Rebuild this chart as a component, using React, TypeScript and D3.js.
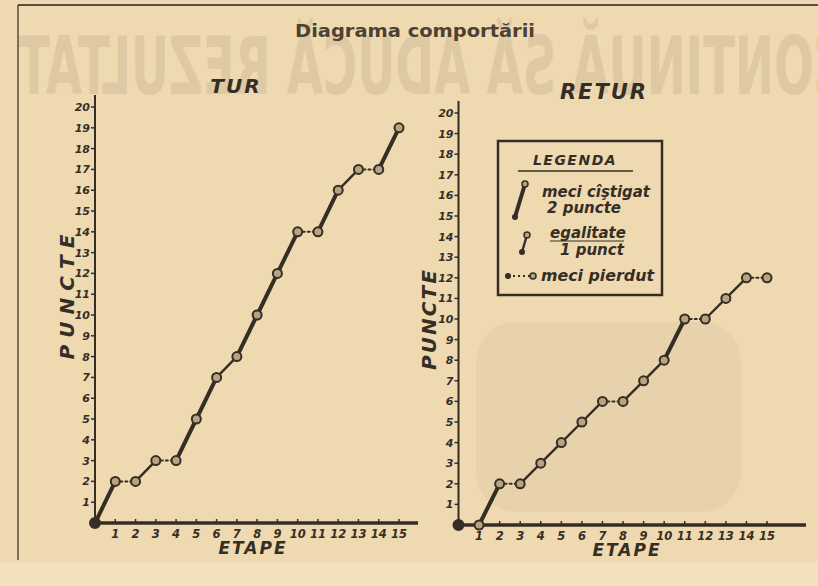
import React from "react";
import * as d3 from "d3";

// puncte cumulate dupa fiecare etapa (0 = start)
const etape = d3.range(0, 16);
const turPuncte = [0, 2, 2, 3, 3, 5, 7, 8, 10, 12, 14, 14, 16, 17, 17, 19];
const returPuncte = [0, 0, 2, 2, 3, 4, 5, 6, 6, 7, 8, 10, 10, 11, 12, 12];
const yTicks = d3.range(1, 21);
const xTicks = d3.range(1, 16);

const W = 818;
const H = 586;
const paper = "#efd9b1";
const ink = "#352e25";
const hand = "'DejaVu Sans', sans-serif";

type PanelProps = {
  title: string;
  titleSize: number;
  values: number[];
  x0: number;
  x1: number;
  y0: number;
  y1: number;
  titleX: number;
  axisEnd: number;
  punctePos: [number, number];
  puncteLen: number;
  etapeX: number;
};

function Panel(props: PanelProps) {
  const { title, titleSize, values, x0, x1, y0, y1, titleX, axisEnd, punctePos, puncteLen, etapeX } = props;
  const x = d3.scaleLinear().domain([0, 15]).range([x0, x1]);
  const y = d3.scaleLinear().domain([0, 20]).range([y0, y1]);

  // segmente: 2 puncte = castig, 1 = egal, 0 = pierdut
  const segs = etape.slice(1).map((e) => {
    const a = values[e - 1];
    const b = values[e];
    return { e, a, b, d: b - a };
  });

  return (
    <g>
      <text x={titleX} y={y1 - 14} textAnchor="middle" fontFamily={hand} fontStyle="italic"
        fontWeight="bold" fontSize={titleSize} fill={ink} letterSpacing={2}>{title}</text>

      {/* axa Y */}
      <line x1={x(0)} x2={x(0)} y1={y(20) - 12} y2={y(0) + 4} stroke={ink} strokeWidth={2} />
      {yTicks.map((t) => (
        <g key={t}>
          <line x1={x(0) - 4} x2={x(0)} y1={y(t)} y2={y(t)} stroke={ink} strokeWidth={1.5} />
          <text x={x(0) - 5} y={y(t) + 4} textAnchor="end" fontFamily={hand} fontStyle="italic"
            fontWeight="bold" fontSize={11} fill={ink}>{t}</text>
        </g>
      ))}

      {/* axa X */}
      <line x1={x(0)} x2={axisEnd} y1={y(0)} y2={y(0)} stroke={ink} strokeWidth={3.5} />
      {xTicks.map((t) => (
        <g key={t}>
          <line x1={x(t)} x2={x(t)} y1={y(0) - 4} y2={y(0)} stroke={ink} strokeWidth={1.5} />
          <text x={x(t)} y={y(0) + 15} textAnchor="middle" fontFamily={hand} fontStyle="italic"
            fontWeight="bold" fontSize={11.5} fill={ink}>{t}</text>
        </g>
      ))}

      <text x={etapeX} y={y(0) + 31} textAnchor="middle" fontFamily={hand} fontStyle="italic"
        fontWeight="bold" fontSize={17} fill={ink} letterSpacing={2}>ETAPE</text>
      <text transform={`translate(${punctePos[0]},${punctePos[1]}) rotate(-90)`} textAnchor="middle"
        fontFamily={hand} fontStyle="italic" fontWeight="bold" fontSize={20} fill={ink}
        textLength={puncteLen} lengthAdjust="spacing">PUNCTE</text>

      {/* linia comportarii */}
      {segs.map((s) => (
        <line key={s.e} x1={x(s.e - 1)} y1={y(s.a)} x2={x(s.e)} y2={y(s.b)} stroke={ink}
          strokeWidth={s.d === 2 ? 4 : s.d === 1 ? 2.4 : 2}
          strokeDasharray={s.d === 0 ? "2,3" : undefined} strokeLinecap="round" />
      ))}
      {values.map((v, i) => (
        <circle key={i} cx={x(i)} cy={y(v)} r={i === 0 ? 5 : 4.5}
          fill={i === 0 ? ink : "#b9a47f"} stroke={ink} strokeWidth={2} />
      ))}
    </g>
  );
}

function Legend() {
  const lx = 498;
  const ly = 141;
  const txt = { fontFamily: hand, fontStyle: "italic", fontWeight: "bold", fill: ink } as const;
  return (
    <g>
      <rect x={lx} y={ly} width={164} height={154} fill="none" stroke={ink} strokeWidth={2.5} />
      <text x={575} y={165} textAnchor="middle" fontSize={14} letterSpacing={1.5} {...txt}>LEGENDA</text>
      <line x1={518} x2={633} y1={171} y2={171} stroke={ink} strokeWidth={1.5} />

      <line x1={515} y1={217} x2={525} y2={184} stroke={ink} strokeWidth={4} />
      <circle cx={515} cy={217} r={3} fill={ink} />
      <circle cx={525} cy={184} r={3} fill="#b9a47f" stroke={ink} strokeWidth={1.5} />
      <text x={542} y={197} fontSize={15} textLength={108} lengthAdjust="spacingAndGlyphs" {...txt}>meci cîştigat</text>
      <text x={547} y={213} fontSize={15} {...txt}>2 puncte</text>

      <line x1={522} y1={252} x2={527} y2={235} stroke={ink} strokeWidth={2.4} />
      <circle cx={522} cy={252} r={3} fill={ink} />
      <circle cx={527} cy={235} r={3} fill="#b9a47f" stroke={ink} strokeWidth={1.5} />
      <text x={550} y={238} fontSize={15} {...txt}>egalitate</text>
      <line x1={550} x2={624} y1={241} y2={241} stroke={ink} strokeWidth={1} />
      <text x={560} y={255} fontSize={15} {...txt}>1 punct</text>

      <line x1={508} y1={276} x2={533} y2={276} stroke={ink} strokeWidth={2} strokeDasharray="2,3" />
      <circle cx={508} cy={276} r={3} fill={ink} />
      <circle cx={533} cy={276} r={3} fill="#b9a47f" stroke={ink} strokeWidth={1.5} />
      <text x={541} y={281} fontSize={15} textLength={113} lengthAdjust="spacingAndGlyphs" {...txt}>meci pierdut</text>
    </g>
  );
}

export default function App() {
  return (
    <svg width={W} height={H} style={{ position: "absolute", left: 0, top: 0 }}>
      <rect x={0} y={0} width={W} height={H} fill={paper} />
      <rect x={0} y={562} width={W} height={H - 562} fill="#f3e0bd" />

      {/* textul de pe verso, vizibil prin hartie */}
      <text transform={`translate(${W},0) scale(-1,1)`} x={-30} y={94} fontFamily="'DejaVu Sans Condensed', 'DejaVu Sans', sans-serif"
        fontWeight="bold" fontSize={80} textLength={830} lengthAdjust="spacingAndGlyphs"
        fill="#6f6252" opacity={0.13}>CONTINUĂ SĂ ADUCĂ REZULTAT</text>
      <rect x={476} y={322} width={265} height={190} rx={40} fill="#8a8478" opacity={0.08} />

      {/* chenar */}
      <line x1={18} x2={W} y1={5} y2={5} stroke="#5a4e3e" strokeWidth={2} />
      <line x1={18} x2={18} y1={5} y2={560} stroke="#5a4e3e" strokeWidth={1.5} />

      <text x={415} y={37} textAnchor="middle" fontFamily="'DejaVu Sans', sans-serif" fontWeight="bold"
        fontSize={17} textLength={240} lengthAdjust="spacingAndGlyphs" fill="#4d4232">Diagrama  comportării</text>

      <Panel title="TUR" titleSize={20} values={turPuncte} x0={95} x1={399} y0={523} y1={107} titleX={236}
        axisEnd={418} punctePos={[74, 297]} puncteLen={125} etapeX={253} />
      <Panel title="RETUR" titleSize={21} values={returPuncte} x0={458.5} x1={767} y0={525} y1={113} titleX={604}
        axisEnd={806} punctePos={[436, 320]} puncteLen={100} etapeX={627} />
      <Legend />
    </svg>
  );
}
